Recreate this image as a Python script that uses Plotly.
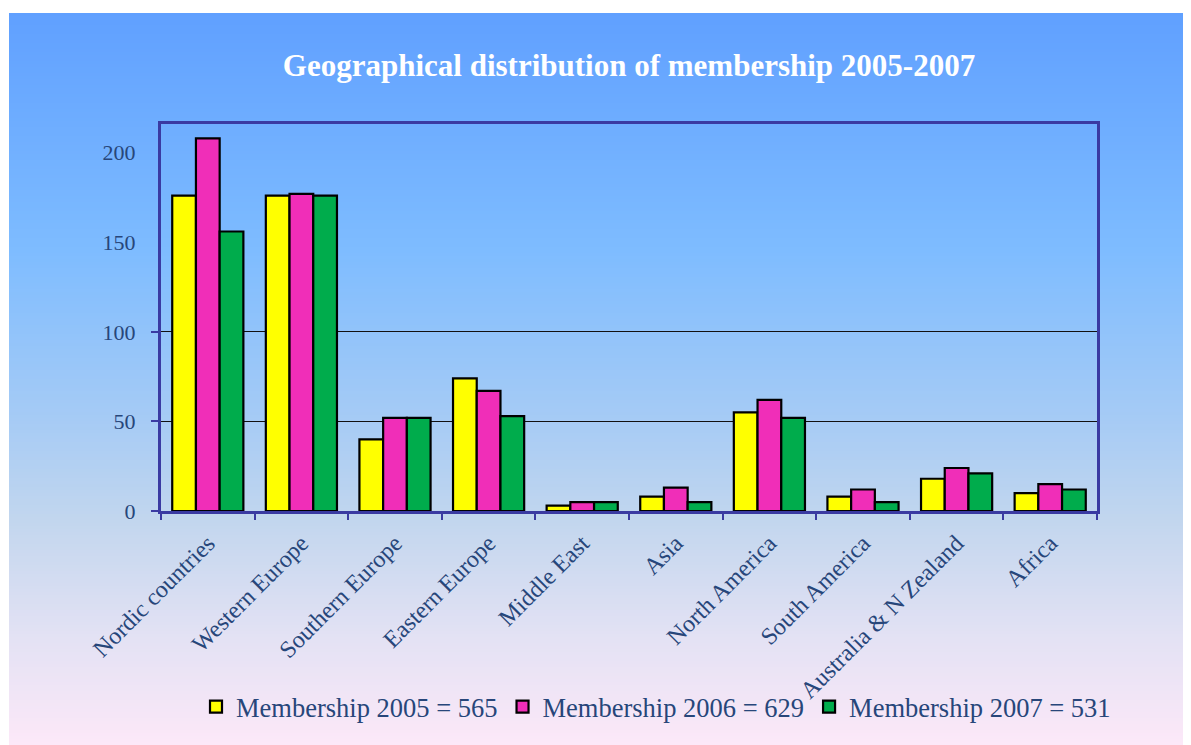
import plotly.graph_objects as go

categories = ["Nordic countries", "Western Europe", "Southern Europe", "Eastern Europe",
              "Middle East", "Asia", "North America", "South America",
              "Australia & N Zealand", "Africa"]
members_2005 = [176, 176, 40, 74, 3, 8, 55, 8, 18, 10]
members_2006 = [208, 177, 52, 67, 5, 13, 62, 12, 24, 15]
members_2007 = [156, 176, 52, 53, 5, 5, 52, 5, 21, 12]
series_names = ["Membership 2005 = 565", "Membership 2006 = 629", "Membership 2007 = 531"]
y_tick_vals = [0, 50, 100, 150, 200]
y_grid_vals = [0, 50, 100]

OFF = 8  # page body margin
W, H = 1191 - OFF, 745 - OFF
ML, MR, MT, MB = 153, 94, 116, 234
PW, PH = W - ML - MR, H - MT - MB

def px2x(p):  # screen px -> paper x
    return (p - OFF - ML) / PW

def px2y(p):  # screen px -> paper y
    return (H - MB - (p - OFF)) / PH

stops = [(13, (96, 160, 255)), (250, (126, 188, 255)), (420, (166, 203, 245)),
         (520, (194, 214, 238)), (640, (228, 226, 244)), (745, (252, 232, 248))]

def color_at(p):
    for (a, ca), (b, cb) in zip(stops[:-1], stops[1:]):
        if a <= p <= b:
            t = (p - a) / (b - a)
            c = [round(ca[i] + (cb[i] - ca[i]) * t) for i in range(3)]
            return "rgb(%d,%d,%d)" % tuple(c)
    return "rgb(%d,%d,%d)" % stops[-1][1]

shapes = []
step = 3
p = 13
while p < 760:
    p2 = p + step
    shapes.append(dict(type="rect", xref="paper", yref="paper",
                       x0=px2x(9), x1=px2x(1220), y0=px2y(p2 + 1.5), y1=px2y(p),
                       fillcolor=color_at(p + step / 2), line=dict(width=0), layer="below"))
    p = p2
# white margins at top and left of the picture
shapes.append(dict(type="rect", xref="paper", yref="paper", x0=px2x(0), x1=px2x(1220),
                   y0=px2y(13), y1=px2y(0), fillcolor="white", line=dict(width=0), layer="below"))
shapes.append(dict(type="rect", xref="paper", yref="paper", x0=px2x(0), x1=px2x(9),
                   y0=px2y(760), y1=px2y(0), fillcolor="white", line=dict(width=0), layer="below"))

colors = ["#ffff00", "#f02eb8", "#00ac4c"]
fig = go.Figure()
for name, vals, col in zip(series_names, [members_2005, members_2006, members_2007], colors):
    fig.add_trace(go.Bar(x=categories, y=vals, name=name,
                         marker=dict(color=col, line=dict(color="black", width=2.2))))

text_col = "#27467a"
axis_col = "#3a3aa2"
fig.update_layout(
    width=W, height=H,
    margin=dict(l=ML, r=MR, t=MT, b=MB),
    paper_bgcolor="#c8daf0",
    plot_bgcolor="rgba(0,0,0,0)",
    font=dict(family="Liberation Serif", color=text_col),
    barmode="group", bargap=0.24, bargroupgap=0,
    shapes=shapes,
    title=dict(text="<b>Geographical distribution of membership 2005-2007</b>",
               font=dict(family="Liberation Serif", size=31, color="white"),
               x=0.5, xref="paper", xanchor="center", y=1 - (65 - OFF) / H, yanchor="middle"),
    legend=dict(orientation="h", x=px2x(656), xanchor="center", y=px2y(707), yanchor="middle",
                font=dict(size=26.5, color=text_col), bgcolor="rgba(0,0,0,0)",
                itemwidth=30, tracegroupgap=0),
    showlegend=True,
)
fig.update_xaxes(type="category", tickson="boundaries", ticks="outside", ticklen=6,
                 tickcolor=axis_col, tickwidth=1.5, showgrid=False,
                 showline=True, linecolor=axis_col, linewidth=2.5, mirror=True,
                 tickangle=-45, ticklabelstandoff=6, tickfont=dict(size=24, color=text_col))
fig.update_yaxes(range=[0, 216], tickmode="array", tickvals=y_tick_vals, ticks="",
                 showgrid=False, zeroline=False, ticklabelstandoff=18,
                 showline=True, linecolor=axis_col, linewidth=3, mirror=True,
                 tickfont=dict(size=22, color=text_col),
                 minor=dict(tickmode="array", tickvals=y_grid_vals, ticks="outside", ticklen=7,
                            tickcolor=axis_col, tickwidth=1.5, showgrid=True,
                            gridcolor="#111111", gridwidth=1))
fig.write_html("out.html")
